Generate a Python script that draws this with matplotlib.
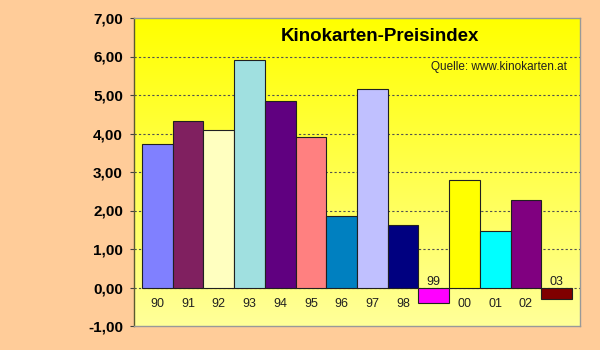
import numpy as np
import matplotlib.pyplot as plt
from matplotlib.colors import to_rgb

plt.rcParams['font.family'] = ['Liberation Sans', 'DejaVu Sans']

years = ['90', '91', '92', '93', '94', '95', '96', '97', '98', '99', '00', '01', '02', '03']
index = [3.72, 4.33, 4.10, 5.90, 4.84, 3.90, 1.86, 5.16, 1.62, -0.39, 2.79, 1.48, 2.26, -0.31]
colors = ['#8080FF', '#802060', '#FFFFC0', '#A0E0E0', '#600080', '#FF8080', '#0080C0',
          '#C0C0FF', '#000080', '#FF00FF', '#FFFF00', '#00FFFF', '#800080', '#800000']
yticks = [-1, 0, 1, 2, 3, 4, 5, 6, 7]

fig = plt.figure(figsize=(6, 3.5), dpi=100)
fig.patch.set_facecolor('#FFCC99')
ax = fig.add_axes([134 / 600, 24 / 350, 446 / 600, 308 / 350])

x = np.arange(len(years))
ax.set_xlim(-0.76, len(years) - 0.24)
ax.set_ylim(-1, 7)

# yellow gradient behind the bars, bright at the top
top = np.array(to_rgb('#FFFF00'))
bottom = np.array(to_rgb('#FFFF99'))
t = np.linspace(0, 1, 256)[:, None]
grad = (top * (1 - t) + bottom * t)[:, None, :]
ax.imshow(grad, extent=[-0.76, len(years) - 0.24, -1, 7], aspect='auto', zorder=0)

ax.bar(x, index, width=1.0, color=colors, edgecolor='#202020', linewidth=0.8, zorder=3)

# dashed grid lines
for v in yticks[1:-1]:
    ax.axhline(v, color='#505050', linestyle=(0, (2, 2)), linewidth=0.8, zorder=1)

# year labels: under the axis, above it for negative bars
for xi, yr, v in zip(x, years, index):
    ypos = 0.15 if v < 0 else -0.43
    ax.text(xi, ypos, yr, ha='center', va='center', fontsize=9, color='#202020', zorder=4)

# decimal comma on the value axis
ax.set_yticks(yticks)
ax.set_yticklabels([('%.2f' % v).replace('.', ',') for v in yticks], fontweight='bold', fontsize=11)
ax.set_xticks([])
ax.tick_params(axis='y', direction='out', length=3, width=0.8, color='#404040', pad=5)

ax.spines['left'].set_color('#5A5A30')
ax.spines['left'].set_linewidth(1.0)
for s in ['top', 'right', 'bottom']:
    ax.spines[s].set_color('#999999')
    ax.spines[s].set_linewidth(1.0)

ax.text(0.552, 6.51, 'Kinokarten-Preisindex', ha='center', va='center',
        fontsize=13.5, fontweight='bold', transform=ax.get_yaxis_transform(), zorder=5)
ax.text(0.971, 5.73, 'Quelle: www.kinokarten.at', ha='right', va='center',
        fontsize=8.5, color='#202020', transform=ax.get_yaxis_transform(), zorder=5)

fig.savefig('out.png', dpi=100, facecolor=fig.get_facecolor())
